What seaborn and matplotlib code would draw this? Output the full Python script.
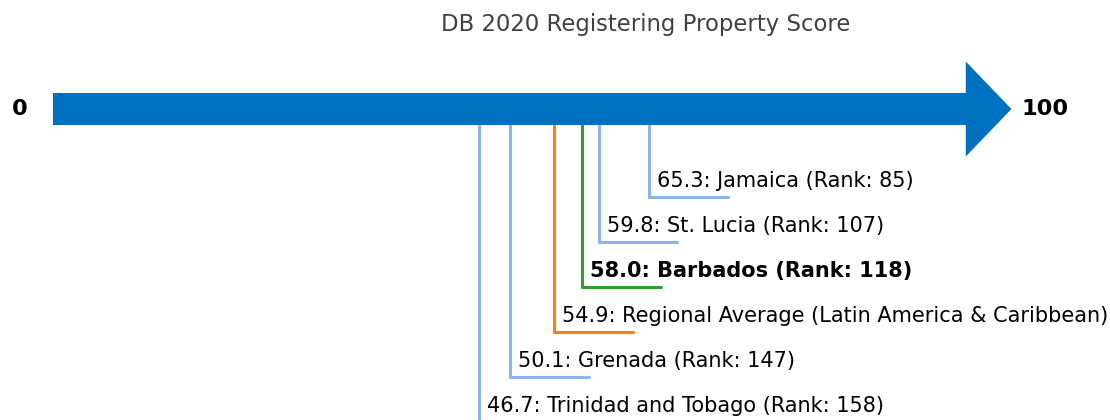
import matplotlib
matplotlib.use("Agg")
import matplotlib.pyplot as plt
import seaborn as sns
import pandas as pd
from matplotlib.patches import Polygon

# ---- data ----
names = ["Jamaica", "St. Lucia", "Barbados",
         "Regional Average (Latin America & Caribbean)", "Grenada",
         "Trinidad and Tobago"]
scores = [65.3, 59.8, 58.0, 54.9, 50.1, 46.7]
ranks = [85, 107, 118, None, 147, 158]
kinds = ["peer", "peer", "focus", "regional", "peer", "peer"]
title = "DB 2020 Registering Property Score"
scale_min, scale_max = 0, 100

# ---- style ----
sns.set_style("white")
plt.rcParams["font.family"] = ["DejaVu Sans"]
palette = {"peer": "#8cb4ea", "focus": "#2ca02c", "regional": "#ff7f0e"}
arrow_color = "#0070c0"

fig = plt.figure(figsize=(11.1, 4.2), dpi=100)
ax = fig.add_axes([0, 0, 1, 1])
ax.axis("off")

# arrow (layout in pixel-like y units)
yc, body_h, head_h = 109, 16, 47.5
head_len = 5.0
arrow = Polygon([(scale_min, yc - body_h), (scale_max, yc - body_h),
                 (scale_max, yc - head_h), (scale_max + head_len, yc),
                 (scale_max, yc + head_h), (scale_max, yc + body_h),
                 (scale_min, yc + body_h)], closed=True,
                facecolor=arrow_color, edgecolor="none", zorder=3)
ax.add_patch(arrow)
ax.text(-3.6, yc, str(scale_min), ha="center", va="center",
        fontsize=16.2, fontweight="bold", color="black")
ax.text(scale_max + head_len + 1.1, yc, str(scale_max), ha="left", va="center",
        fontsize=16.2, fontweight="bold", color="black")

ax.text(64.9, 24, title, ha="center", va="center", fontsize=16.4,
        color="#404040")

# leader lines
row0, row_gap, tail = 197, 45, 8.6
rows = []
for i, (n, s, k) in enumerate(zip(names, scores, kinds)):
    yrow = row0 + i * row_gap
    for px, py in [(s, yc + body_h), (s, yrow), (s + tail, yrow)]:
        rows.append({"id": n, "kind": k, "x": px, "y": py})
df = pd.DataFrame(rows)
sns.lineplot(data=df, x="x", y="y", units="id", hue="kind", palette=palette,
             estimator=None, sort=False, linewidth=2.2, legend=False, ax=ax,
             zorder=2)
ax.set_xlim(-5.8, 115.8)
ax.set_ylim(420, 0)
ax.axis("off")

for i, (n, s, r, k) in enumerate(zip(names, scores, ranks, kinds)):
    yrow = row0 + i * row_gap
    label = f"{s:.1f}: {n}" + (f" (Rank: {r})" if r is not None else "")
    ax.text(s + 0.87, yrow - 10, label, ha="left", va="baseline",
            fontsize=15.0,
            fontweight="bold" if k == "focus" else "normal", color="black")

fig.savefig("out.png", dpi=100)
